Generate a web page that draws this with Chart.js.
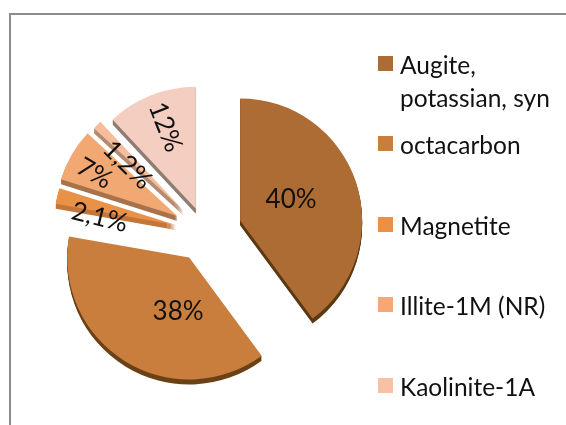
<!DOCTYPE html>
<html>
<head>
<meta charset="utf-8">
<title>Phase composition</title>
<script src="https://cdn.jsdelivr.net/npm/chart.js@4"></script>
<style>
    html, body { margin: 0; padding: 0; background: #fff; }
    #wrap { position: relative; width: 566px; height: 425px; overflow: hidden; }
    #frame { position: absolute; left: 9px; top: 13px; width: 570px; height: 430px; border-top: 2px solid #8c8c8c; border-left: 2px solid #8c8c8c; }
    #chart { position: absolute; left: 0; top: 0; }
    .legend-item { position: absolute; left: 400px; font: 24.5px/33px Lato, sans-serif; color: #111; white-space: pre; }
    .legend-box { position: absolute; left: 378px; width: 15px; height: 15px; }
</style>
</head>
<body>
<div id="wrap">
    <div id="frame"></div>
    <canvas id="chart" width="566" height="425"></canvas>
</div>
<script>
// Данные диаграммы
const categories = ['Augite,\npotassian, syn', 'octacarbon', 'Magnetite', 'Illite-1M (NR)', 'Kaolinite-1A'];
const values = [40, 38, 2.1, 7, 1.2, 12];
const valueLabels = ['40%', '38%', '2,1%', '7%', '1,2%', '12%'];

// Оформление
const sliceColors = ['#ad6c33', '#ca7e3e', '#ea9148', '#f2a873', '#f4bd9c', '#f4cfc1'];
const wallColors = ['#5c3813', '#6b4217', '#c4763a', '#a8734c', '#b58a70', '#8f7d74'];
const legendBoxColors = ['#ad6c33', '#ca7e3e', '#ea9148', '#f5a873', '#f8c1a6'];
const sliceShifts = [37, 30, 30, 32, 30, 25];
const labelNudgeX = [-7, 21, -17, -30, -13, -8];
const labelNudgeY = [-2, 2, 7, -12, -3, -25];
const legendTops = [48, 128, 209, 289, 370];
const legendBoxTops = [56, 136, 217, 297, 378];
const sliceRadius = 122;
const wallDepth = 5;

// Сегменты рисуем сами: стенка снизу, верх поверх, каждый сдвинут от центра.
// Встроенный offset у Arc искажает узкие сегменты, поэтому он не используется.
const explodedPiePlugin = {
    id: 'explodedPie',
    beforeDatasetDraw(chart) {
        const ctx = chart.ctx;
        chart.getDatasetMeta(0).data.forEach((arc, i) => {
            const mid = (arc.startAngle + arc.endAngle) / 2;
            const dx = Math.cos(mid) * sliceShifts[i];
            const dy = Math.sin(mid) * sliceShifts[i];
            const saved = arc.options;
            arc.options = Object.create(saved, { backgroundColor: { value: wallColors[i] } });
            for (let d = wallDepth; d > 0; d--) {
                ctx.save();
                ctx.translate(dx, dy + d);
                arc.draw(ctx);
                ctx.restore();
            }
            arc.options = saved;
            ctx.save();
            ctx.translate(dx, dy);
            arc.draw(ctx);
            ctx.restore();
        });
        return false;
    }
};

// Подписи значений, маленькие сегменты — с поворотом
const valueLabelPlugin = {
    id: 'valueLabels',
    afterDatasetsDraw(chart) {
        const ctx = chart.ctx;
        chart.getDatasetMeta(0).data.forEach((arc, i) => {
            const mid = (arc.startAngle + arc.endAngle) / 2;
            const r = sliceRadius / 2 + sliceShifts[i];
            const x = arc.x + Math.cos(mid) * r + labelNudgeX[i];
            const y = arc.y + Math.sin(mid) * r + labelNudgeY[i];
            ctx.save();
            ctx.translate(x, y);
            if (values[i] < 15) {
                ctx.rotate(mid + Math.PI);
            }
            ctx.font = '26px Lato, sans-serif';
            ctx.fillStyle = '#111';
            ctx.textAlign = 'center';
            ctx.textBaseline = 'middle';
            ctx.fillText(valueLabels[i], 0, 0);
            ctx.restore();
        });
    }
};

new Chart(document.getElementById('chart').getContext('2d'), {
    type: 'pie',
    data: {
        labels: categories,
        datasets: [{
            data: values,
            backgroundColor: sliceColors,
            borderWidth: 0
        }]
    },
    options: {
        responsive: false,
        animation: false,
        radius: sliceRadius,
        layout: { padding: { left: 0, right: 156, top: 39, bottom: 0 } },
        plugins: {
            legend: { display: false },
            tooltip: { enabled: false }
        }
    },
    plugins: [explodedPiePlugin, valueLabelPlugin]
});

// Легенда
const wrap = document.getElementById('wrap');
categories.forEach((name, i) => {
    const box = document.createElement('div');
    box.className = 'legend-box';
    box.style.top = legendBoxTops[i] + 'px';
    box.style.background = legendBoxColors[i];
    wrap.appendChild(box);

    const item = document.createElement('div');
    item.className = 'legend-item';
    item.style.top = legendTops[i] + 'px';
    item.textContent = name;
    wrap.appendChild(item);
});
</script>
</body>
</html>
